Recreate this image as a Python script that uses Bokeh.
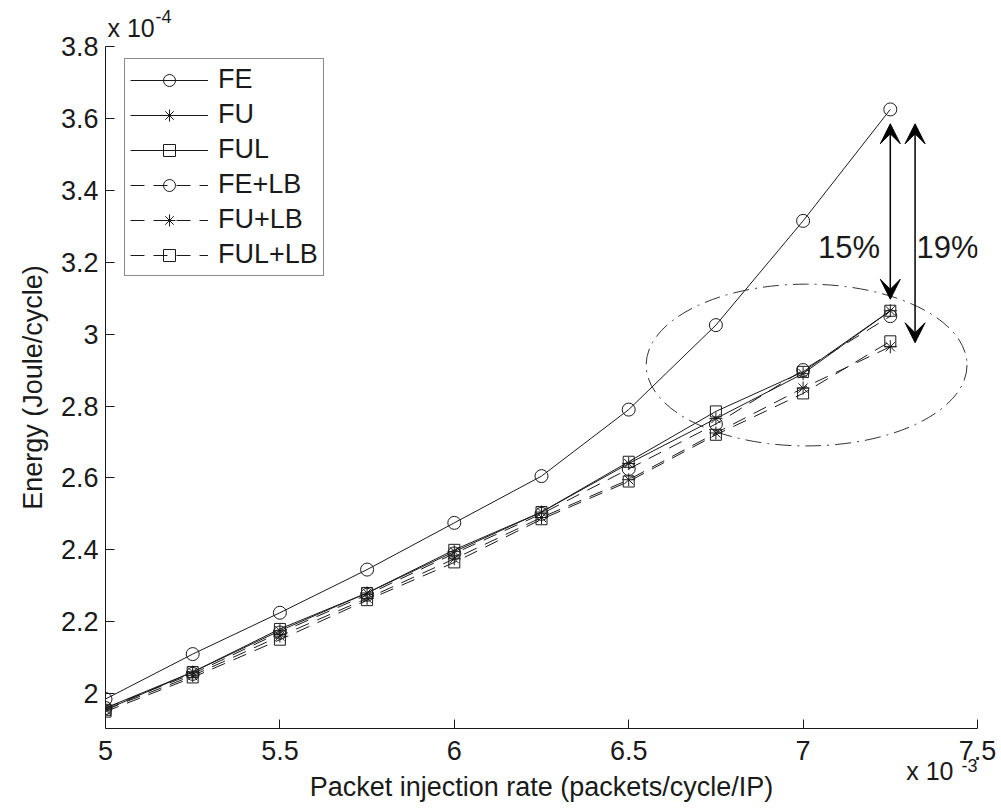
from bokeh.plotting import figure
from bokeh.models import (Legend, LegendItem, Label, Arrow, VeeHead, FixedTicker,
                          CustomJSTickFormatter, Title)
from bokeh.embed import file_html
from bokeh.resources import INLINE

# Packet injection rate (x 10^-3 packets/cycle/IP)
rate = [5.0, 5.25, 5.5, 5.75, 6.0, 6.25, 6.5, 6.75, 7.0, 7.25]
# Energy (x 10^-4 Joule/cycle)
fe     = [1.985, 2.110, 2.225, 2.345, 2.475, 2.605, 2.790, 3.025, 3.315, 3.625]
fu     = [1.960, 2.060, 2.175, 2.280, 2.395, 2.505, 2.640, 2.765, 2.890, 3.065]
ful    = [1.955, 2.060, 2.180, 2.280, 2.400, 2.505, 2.645, 2.785, 2.895, 3.065]
fe_lb  = [1.960, 2.055, 2.170, 2.275, 2.390, 2.500, 2.625, 2.750, 2.900, 3.050]
fu_lb  = [1.955, 2.050, 2.160, 2.265, 2.375, 2.490, 2.595, 2.725, 2.850, 2.965]
ful_lb = [1.950, 2.045, 2.150, 2.260, 2.365, 2.485, 2.590, 2.720, 2.835, 2.980]

x_ticks = [5.0, 5.5, 6.0, 6.5, 7.0, 7.5]
y_ticks = [2.0, 2.2, 2.4, 2.6, 2.8, 3.0, 3.2, 3.4, 3.6, 3.8]

FONT = "Liberation Sans"
INK = "#1a1a1a"

p = figure(width=997, height=804, x_range=(5.0, 7.5), y_range=(1.903, 3.8),
           output_backend="svg", toolbar_location=None,
           min_border_left=105, min_border_right=20, min_border_top=0, min_border_bottom=76)
p.outline_line_color = None
p.grid.visible = False
p.background_fill_color = "white"

fmt = CustomJSTickFormatter(code="return String(Number(tick.toFixed(3)));")
for ax, ticks in ((p.xaxis[0], x_ticks), (p.yaxis[0], y_ticks)):
    ax.ticker = FixedTicker(ticks=ticks)
    ax.formatter = fmt
    ax.major_tick_in = 9
    ax.major_tick_out = 0
    ax.minor_tick_in = 0
    ax.minor_tick_out = 0
    ax.axis_line_color = INK
    ax.major_tick_line_color = INK
    ax.major_label_text_font = FONT
    ax.major_label_text_font_size = "27px"
    ax.major_label_text_color = INK
    ax.axis_label_text_font = FONT
    ax.axis_label_text_font_size = "27px"
    ax.axis_label_text_font_style = "normal"
    ax.axis_label_text_color = INK

p.yaxis.axis_label = "Energy (Joule/cycle)"
p.xaxis.major_label_standoff = 12
p.yaxis.major_label_standoff = 7
p.yaxis.axis_label_standoff = 10

series = [
    ("FE", fe, "solid", "circle", 13),
    ("FU", fu, "solid", "asterisk", 13),
    ("FUL", ful, "solid", "square", 11),
    ("FE+LB", fe_lb, "14 9", "circle", 13),
    ("FU+LB", fu_lb, "14 9", "asterisk", 13),
    ("FUL+LB", ful_lb, "14 9", "square", 11),
]

items = []
for name, vals, dash, marker, size in series:
    ln = p.line(rate, vals, line_color=INK, line_width=1, line_dash=dash)
    sc = p.scatter(rate, vals, marker=marker, size=size, fill_color=None,
                   line_color=INK, line_width=1)
    items.append(LegendItem(label=name, renderers=[ln, sc]))

legend = Legend(items=items, location=(19, 452), margin=0,
                label_text_font=FONT, label_text_font_size="27px", label_text_color=INK,
                glyph_width=78, glyph_height=30, label_height=30, label_standoff=10,
                spacing=4, padding=5, border_line_color=INK, border_line_width=1,
                background_fill_color="white", background_fill_alpha=1.0)
p.add_layout(legend)

# dash-dot ellipse highlighting the high-load region
p.ellipse(x=[7.01], y=[2.914], width=0.92, height=0.45, fill_color=None,
          line_color="#333333", line_width=1, line_dash="16 6 2 6")

# double arrows
for xa, y0, y1 in ((7.25, 3.585, 3.097), (7.321, 3.585, 2.976)):
    p.add_layout(Arrow(x_start=xa, y_start=y0, x_end=xa, y_end=y1,
                       line_color="black", line_width=1.5,
                       start=VeeHead(size=20, fill_color="black", line_color="black"),
                       end=VeeHead(size=20, fill_color="black", line_color="black")))

for txt, xx in (("15%", 7.043), ("19%", 7.325)):
    p.add_layout(Label(x=xx, y=3.241, text=txt, text_font=FONT, text_font_size="31px",
                       text_color=INK, text_baseline="alphabetic"))


def title(text, size, align, offset, valign, standoff):
    return Title(text=text, text_font=FONT, text_font_size=size, text_font_style="normal",
                 text_color=INK, align=align, offset=offset, vertical_align=valign,
                 standoff=standoff)


# exponent of the y axis (above the frame)
p.add_layout(title("x 10", "25px", "left", 2, "top", 5), "above")
p.add_layout(title("\n-4", "18px", "left", 50, "bottom", -31), "above")

# exponent of the x axis and x-axis label (below the tick labels)
p.add_layout(title("x 10", "25px", "right", 24, "top", -12), "below")
p.add_layout(title("Packet injection rate (packets/cycle/IP)", "27px", "center", 0, "top", -18),
             "below")
p.add_layout(title("-3", "18px", "right", 0, "top", -72), "below")

open("out.html", "w").write(file_html(p, INLINE))
